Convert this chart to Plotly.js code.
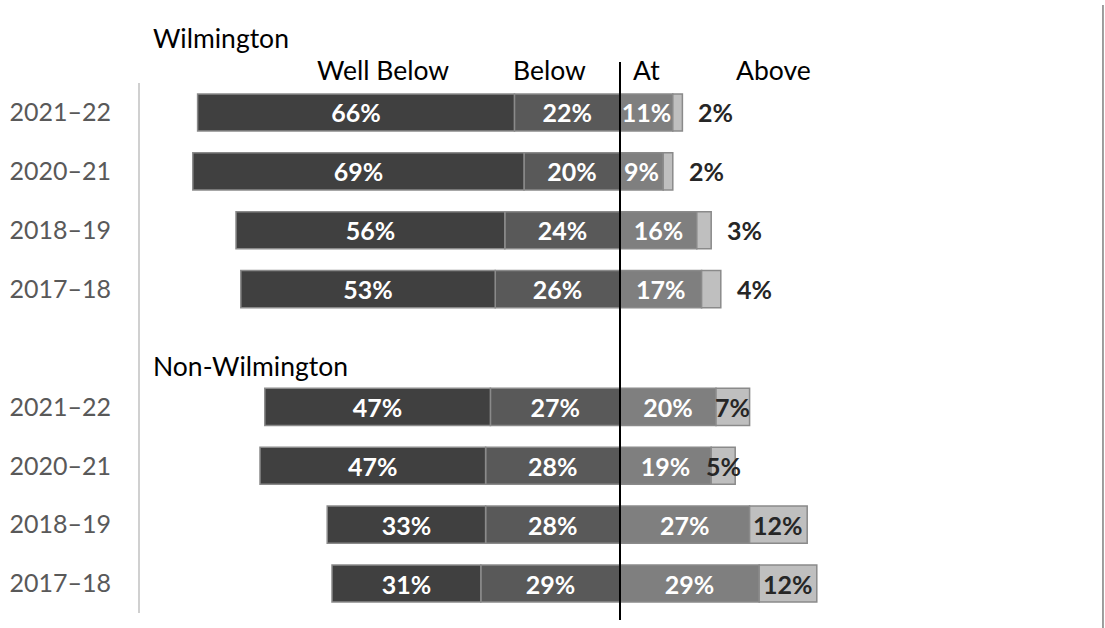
<!DOCTYPE html>
<html>
<head>
<meta charset="utf-8">
<script src="https://cdn.plot.ly/plotly-3.0.1.min.js"></script>
<style>
html,body{margin:0;padding:0;background:#fff;}
#chart{width:1105px;height:628px;}
</style>
</head>
<body>
<div id="chart"></div>
<script>
// ---- data ----
const groupNames = ['Wilmington', 'Non-Wilmington'];
const groups = ['Wilmington','Wilmington','Wilmington','Wilmington',
                'Non-Wilmington','Non-Wilmington','Non-Wilmington','Non-Wilmington'];
const years = ['2021–22','2020–21','2018–19','2017–18',
               '2021–22','2020–21','2018–19','2017–18'];
const wellBelow = [66, 69, 56, 53, 47, 47, 33, 31];
const below     = [22, 20, 24, 26, 27, 28, 28, 29];
const atLevel   = [11,  9, 16, 17, 20, 19, 27, 29];
const above     = [ 2,  2,  3,  4,  7,  5, 12, 12];
const headers   = ['Well Below', 'Below', 'At', 'Above'];

// ---- layout helpers ----
const FONT = 'Lato, "Open Sans", sans-serif';
const LABEL_SIZE = 25;
const TEXT_SIZE = 26.5;
// each group gets its own block, with one empty row between blocks
const slot = years.map((y, i) => i + groupNames.indexOf(groups[i]));
const pct = v => v + '%';

function seg(name, vals, sign, color, textColor) {
  return {
    type: 'bar', orientation: 'h', name: name,
    y: slot, x: vals.map(v => sign * v),
    text: vals.map(pct), textposition: 'inside', insidetextanchor: 'middle',
    constraintext: 'none',
    textfont: {family: FONT, size: LABEL_SIZE, color: textColor, weight: 'bold'},
    marker: {color: color, line: {color: '#8a8a8a', width: 1.5}},
    width: 0.63, hoverinfo: 'skip', cliponaxis: false
  };
}

const traces = [
  seg('Below', below, -1, '#595959', '#ffffff'),
  seg('Well Below', wellBelow, -1, '#404040', '#ffffff'),
  seg('At', atLevel, 1, '#7f7f7f', '#ffffff'),
  Object.assign(seg('Above', above, 1, '#bfbfbf', '#262626'), {text: above.map(() => ''), textposition: 'none'})
];

const annotations = [];
// Above labels: outside for Wilmington, centered on segment for others
above.forEach((v, i) => {
  const outside = groups[i] === groupNames[0];
  annotations.push({
    xref: 'x', yref: 'y', y: slot[i],
    x: outside ? atLevel[i] + v : atLevel[i] + v / 2,
    xanchor: outside ? 'left' : 'center', xshift: outside ? 14 : 0,
    text: '<b>' + pct(v) + '</b>', showarrow: false,
    font: {family: FONT, size: LABEL_SIZE, color: '#262626'}
  });
});
// group titles
groupNames.forEach((g, gi) => {
  annotations.push({
    xref: 'paper', x: 0.0115, xanchor: 'left',
    yref: gi === 0 ? 'paper' : 'y', y: gi === 0 ? 1.085 : 4.3, yanchor: 'middle',
    text: g, showarrow: false,
    font: {family: FONT, size: TEXT_SIZE, color: '#000000'}
  });
});
// column headers
const headerX = [-49.4, -14.6, 5.6, 31.9];
headers.forEach((h, i) => {
  annotations.push({
    xref: 'x', x: headerX[i], xanchor: 'center',
    yref: 'paper', y: 1.0245, yanchor: 'middle',
    text: h, showarrow: false,
    font: {family: FONT, size: TEXT_SIZE, color: '#000000'}
  });
});

const layout = {
  width: 1105, height: 628,
  margin: {l: 140, r: 5, t: 83, b: 15},
  paper_bgcolor: '#ffffff', plot_bgcolor: '#ffffff',
  barmode: 'relative', bargap: 0.37,
  showlegend: false,
  xaxis: {range: [-100, 100], visible: false, zeroline: false, fixedrange: true},
  yaxis: {
    range: [8.5, -0.5], tickvals: slot, ticktext: years,
    showline: true, linecolor: '#d0d0d0', linewidth: 2,
    showgrid: false, zeroline: false,
    ticks: 'outside', ticklen: 22, tickcolor: 'rgba(0,0,0,0)',
    tickfont: {family: FONT, size: LABEL_SIZE, color: '#595959'},
    fixedrange: true
  },
  shapes: [
    {type: 'line', xref: 'x', x0: 0, x1: 0, yref: 'paper', y0: -0.0132, y1: 1.0396,
     line: {color: '#000000', width: 2}},
    {type: 'line', xref: 'paper', x0: 1.0031, x1: 1.0031, yref: 'paper', y0: -0.03, y1: 1.1472,
     line: {color: '#7f7f7f', width: 1.5}}
  ],
  annotations: annotations
};

Plotly.newPlot('chart', traces, layout, {displayModeBar: false, staticPlot: true});
</script>
</body>
</html>
